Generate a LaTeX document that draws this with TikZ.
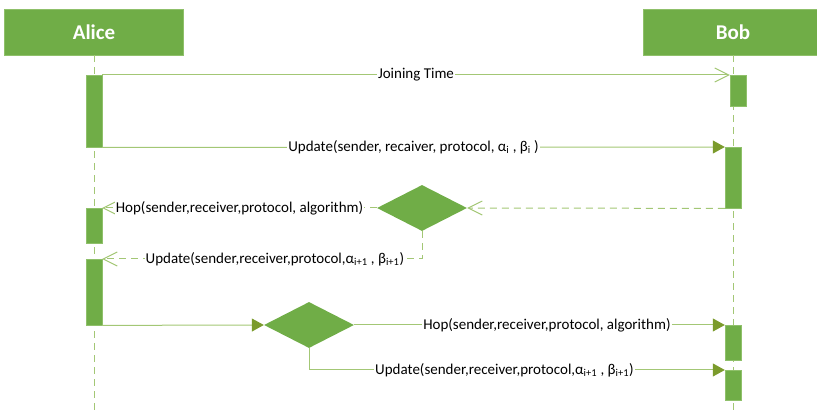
\documentclass[tikz,border=0pt]{standalone}
\usepackage{fontspec}
\setmainfont{Carlito}
\usetikzlibrary{shapes.geometric,arrows.meta}
\definecolor{headgreen}{HTML}{70AD47}
\definecolor{edgegreen}{HTML}{8FC06A}
\definecolor{linegreen}{HTML}{A3C775}
\definecolor{tipgreen}{HTML}{7B9B2C}

\begin{document}
\begin{tikzpicture}[x=1pt,y=-1pt,
  every node/.style={font=\fontsize{15}{17}\selectfont},
  header/.style={rectangle,fill=headgreen,draw=edgegreen,minimum width=179pt,minimum height=46pt,inner sep=0pt,text=white,font=\fontsize{21}{24}\selectfont\bfseries},
  lifeline/.style={draw=linegreen,line width=1pt,dash pattern=on 7pt off 5pt},
  activity/.style={rectangle,fill=headgreen,draw=edgegreen,minimum width=16pt,inner sep=0pt,anchor=north},
  choice/.style={diamond,fill=headgreen,minimum width=90pt,minimum height=46pt,inner sep=0pt},
  msg/.style={draw=linegreen,line width=1pt},
  reply/.style={msg,dash pattern=on 7pt off 5pt},
  async/.style={-{Straight Barb[length=14pt,width=14pt]}},
  sync/.style={-{Triangle[length=12pt,width=13pt,color=tipgreen]}},
  lbl/.style={fill=white,inner sep=1pt,text=black}]
\useasboundingbox (0,0) rectangle (817,411);
\clip (0,0) rectangle (817,411);
    % lifelines
    \node[header] (alice) at (94,32) {Alice};
    \node[header] (bob) at (733,32) {Bob};
    \coordinate (aliceEnd) at (94,411);
    \coordinate (bobEnd) at (733,411);
    \draw[lifeline] (alice.south) -- (aliceEnd);
    \draw[lifeline] (bob.south) -- (bobEnd);
    % activations
    \node[activity,minimum height=72pt] (aliceA) at (94,75) {};
    \node[activity,minimum height=35pt] (aliceB) at (94,208) {};
    \node[activity,minimum height=66pt] (aliceC) at (94,259) {};
    \node[activity,minimum height=31pt] (bobA) at (738,75) {};
    \node[activity,minimum height=61pt] (bobB) at (733,147) {};
    \node[activity,minimum height=35pt] (bobC) at (733,325) {};
    \node[activity,minimum height=30pt] (bobD) at (733,370) {};
    \node[choice] (choiceA) at (422,208) {};
    \node[choice] (choiceB) at (309,325) {};
    % messages
    \draw[msg,async] (aliceA.north east) -- node[lbl]{Joining Time} (bobA.north west);
    \draw[msg,sync] (aliceA.south east) -- node[lbl]{Update(sender, recaiver, protocol, α\textsubscript{i} , β\textsubscript{i} )} (bobB.north west);
    \draw[reply,async] (bobB.south west) -- (choiceA.east);
    \draw[reply,async] (choiceA.west) -- node[lbl]{Hop(sender,receiver,protocol, algorithm)} (aliceB.north east);
    \draw[reply,async] (choiceA.south) |- node[lbl,pos=0.73]{Update(sender,receiver,protocol,α\textsubscript{i+1} , β\textsubscript{i+1})} (aliceC.north east);
    \draw[msg,sync] (aliceC.south east) -- (choiceB.west);
    \draw[msg,sync] (choiceB.east) -- node[lbl,pos=0.52]{Hop(sender,receiver,protocol, algorithm)} (bobC.north west);
    \draw[msg,sync] (choiceB.south) |- node[lbl,pos=0.735]{Update(sender,receiver,protocol,α\textsubscript{i+1} , β\textsubscript{i+1})} (bobD.north west);
\end{tikzpicture}
\end{document}
